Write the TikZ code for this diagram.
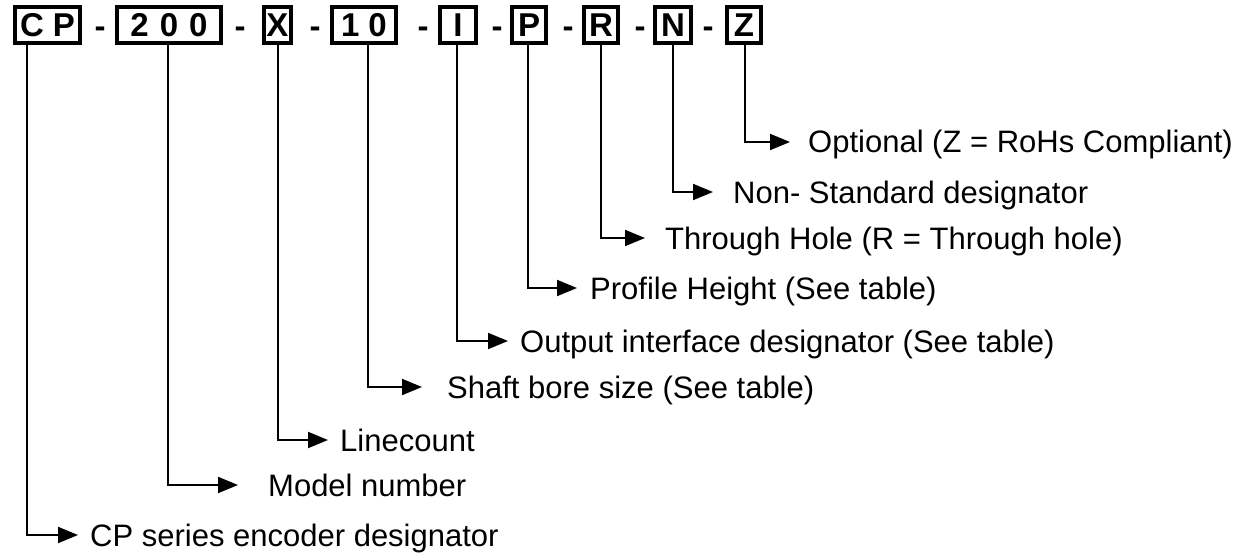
\documentclass[tikz,border=0pt]{standalone}
\usepackage{fontspec}
\setmainfont{Liberation Sans}
\usetikzlibrary{arrows.meta}
\begin{document}
\begin{tikzpicture}[x=1pt,y=-1pt,
  codebox/.style={draw, line width=4pt, inner sep=0pt, minimum height=36pt,
    font=\fontsize{33}{33}\selectfont\bfseries},
  sepdash/.style={anchor=base, inner sep=0pt, font=\fontsize{33}{33}\selectfont\bfseries},
  conn/.style={line width=2pt, -{Triangle[length=20pt,width=16pt]}},
  lbl/.style={anchor=base west, inner sep=0pt, font=\fontsize{31}{36}\selectfont}]
\useasboundingbox (0,0) rectangle (1246,556);
\fill[white] (0,0) rectangle (1246,556);
% code boxes
\node[codebox, minimum width=65pt]  (bcp) at (47.5,25) {C\hspace{9pt}P};
\node[codebox, minimum width=104pt] (b200) at (169,25) {2\hspace{11pt}0\hspace{11pt}0};
\node[codebox, minimum width=27pt]  (bx) at (277.5,25) {X};
\node[codebox, minimum width=64pt]  (b10) at (364,25) {1\hspace{9pt}0};
\node[codebox, minimum width=36pt]  (bi) at (458,25) {I};
\node[codebox, minimum width=34pt]  (bp) at (529,25) {P};
\node[codebox, minimum width=34pt]  (br) at (601,25) {R};
\node[codebox, minimum width=36pt]  (bn) at (673,25) {N};
\node[codebox, minimum width=34pt]  (bz) at (744,25) {Z};
% separators
\node[sepdash] (d1) at (100,38) {-};
\node[sepdash] (d2) at (240,38) {-};
\node[sepdash] (d3) at (315,38) {-};
\node[sepdash] (d4) at (423,38) {-};
\node[sepdash] (d5) at (497,38) {-};
\node[sepdash] (d6) at (568,38) {-};
\node[sepdash] (d7) at (640,38) {-};
\node[sepdash] (d8) at (708,38) {-};
% labels
\node[lbl] (tz)  at (808,153) {Optional (Z = RoHs Compliant)};
\node[lbl] (tn)  at (733,203) {Non- Standard designator};
\node[lbl] (tr)  at (665,249) {Through Hole (R = Through hole)};
\node[lbl] (tp)  at (590,299) {Profile Height (See table)};
\node[lbl] (ti)  at (520,352) {Output interface designator (See table)};
\node[lbl] (t10) at (447,398) {Shaft bore size (See table)};
\node[lbl] (tx)  at (340,451) {Linecount};
\node[lbl] (t200) at (268,496) {Model number};
\node[lbl] (tcp) at (90,546) {CP series encoder designator};
% arrow ends
\coordinate (az)  at (790,142);
\coordinate (an)  at (713,192);
\coordinate (ar)  at (645,238);
\coordinate (ap)  at (577,288);
\coordinate (ai)  at (508,341);
\coordinate (a10) at (422,387);
\coordinate (ax)  at (328,440);
\coordinate (a200) at (238,485);
\coordinate (acp) at (78,535);
% connectors
\draw[conn] ([xshift=1pt]bz.south) |- (az);
\draw[conn] (bn.south) |- (an);
\draw[conn] (br.south) |- (ar);
\draw[conn] ([xshift=-1pt]bp.south) |- (ap);
\draw[conn] ([xshift=-1pt]bi.south) |- (ai);
\draw[conn] ([xshift=4pt]b10.south) |- (a10);
\draw[conn] (bx.south) |- (ax);
\draw[conn] ([xshift=-1pt]b200.south) |- (a200);
\draw[conn] ([xshift=-20.5pt]bcp.south) |- (acp);
\end{tikzpicture}
\end{document}
